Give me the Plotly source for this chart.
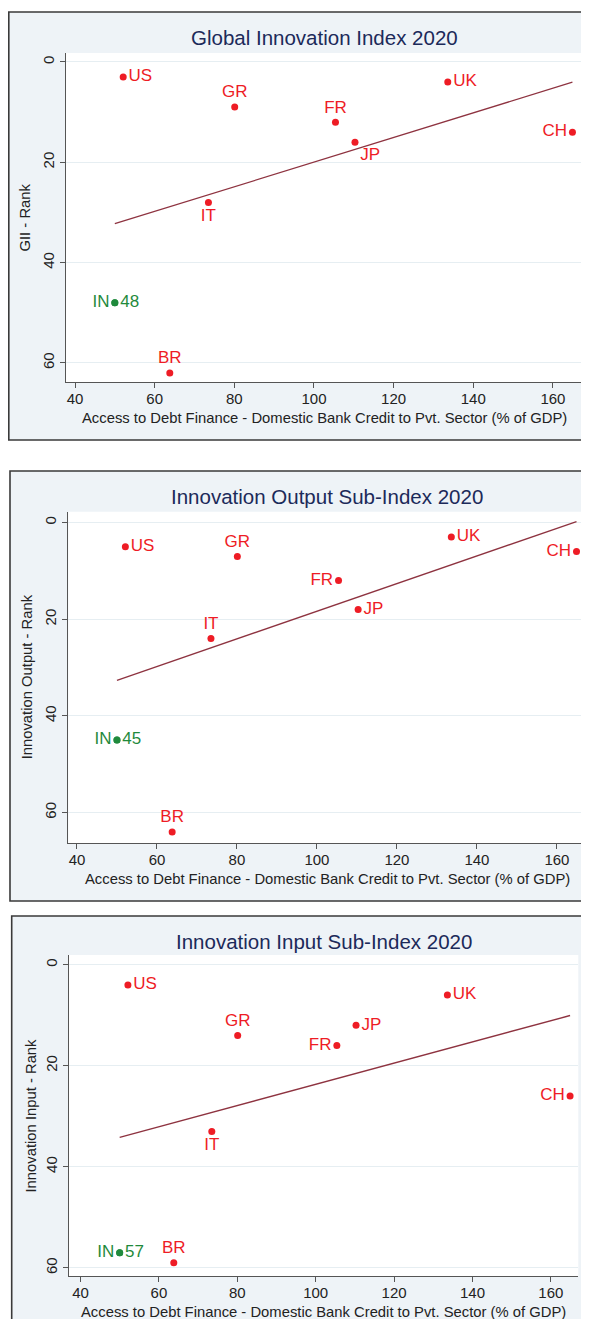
import numpy as np
import plotly.graph_objects as go

# target page size; the page body has an 8px margin, so the figure is offset by it
W, H = 589, 1327
OX, OY = 8, 8
FW, FH = W - OX, H - 2 * OY

countries = ["US", "GR", "FR", "JP", "UK", "CH", "IT", "IN", "BR"]
credit = [52.1, 80.1, 105.4, 110.3, 133.6, 164.9, 73.5, 50.0, 63.8]
gii_rank = [3, 9, 12, 16, 4, 14, 28, 48, 62]
output_rank = [5, 7, 12, 18, 3, 6, 24, 45, 64]
input_rank = [4, 14, 16, 12, 6, 26, 33, 57, 59]

x_ticks = [40, 60, 80, 100, 120, 140, 160]
y_ticks = [0, 20, 40, 60]
x_title = "Access to Debt Finance - Domestic Bank Credit to Pvt. Sector (% of GDP)"

FONT = "Liberation Sans, Arial, sans-serif"
RED = "#ee1c25"
GREEN = "#1f8a3c"
FIT = "#8e3340"
TITLE_C = "#1c2a5a"
TXT = "#222222"
AXIS_C = "#555555"
GRID = "#e6eef2"
PANEL_BG = "#eef3f7"
BORDER = "#3a3a3a"

# panel layout in page pixels: graph box (left, top, bottom), plot area (l, t, r, b), axis ranges
PANELS = [
    dict(title="Global Innovation Index 2020", ytitle="GII - Rank", ranks=gii_rank,
         pos=["middle right", "top center", "top center", "bottom right", "middle right",
              "middle left", "bottom center", "middle left", "top center"],
         box=(7, 12, 440), plot=(66, 53, 582, 382),
         xr=[37.74, 167.3], yr=[63.8, -1.79], ytx=25),
    dict(title="Innovation Output Sub-Index 2020", ytitle="Innovation Output - Rank", ranks=output_rank,
         pos=["middle right", "top center", "middle left", "middle right", "middle right",
              "middle left", "top center", "middle left", "top center"],
         box=(10, 471, 901), plot=(68.3, 511.7, 585.7, 843),
         xr=[37.83, 167.2], yr=[66.3, -2.26], ytx=27),
    dict(title="Innovation Input Sub-Index 2020", ytitle="Innovation Input - Rank", ranks=input_rank,
         pos=["middle right", "top center", "middle left", "middle right", "middle right",
              "middle left", "bottom center", "middle left", "top center"],
         box=(11.7, 916, 1340), plot=(69, 955, 578.3, 1276),
         xr=[37.07, 167.0], yr=[61.6, -1.92], ytx=30),
]


def fx(v):
    return (v - OX) / FW


def fy(v):
    return 1 - (v - OY) / FH


fig = go.Figure()
layout = {}

for i, p in enumerate(PANELS, start=1):
    s = "" if i == 1 else str(i)
    xa, ya = "x" + s, "y" + s
    l, t, r, b = p["plot"]

    # graph region background + border, then white plot region
    fig.add_shape(type="rect", xref="paper", yref="paper",
                  x0=fx(max(p["box"][0], OX + 0.8)), x1=fx(W + 10),
                  y0=fy(p["box"][2]), y1=fy(p["box"][1]),
                  fillcolor=PANEL_BG, line=dict(color=BORDER, width=1.6), layer="below")
    fig.add_shape(type="rect", xref=xa + " domain", yref=ya + " domain",
                  x0=0, x1=1, y0=0, y1=1, fillcolor="white", line_width=0, layer="below")

    ranks = p["ranks"]
    red_idx = [k for k, c in enumerate(countries) if c != "IN"]
    in_idx = countries.index("IN")

    # fitted line
    slope, icpt = np.polyfit(credit, ranks, 1)
    xs = np.array([min(credit), max(credit)])
    fig.add_trace(go.Scatter(x=xs, y=slope * xs + icpt, mode="lines", xaxis=xa, yaxis=ya,
                             line=dict(color=FIT, width=1.3), hoverinfo="skip"))

    fig.add_trace(go.Scatter(
        x=[credit[k] for k in red_idx], y=[ranks[k] for k in red_idx],
        text=[countries[k] for k in red_idx], textposition=[p["pos"][k] for k in red_idx],
        mode="markers+text", xaxis=xa, yaxis=ya, cliponaxis=False,
        marker=dict(color=RED, size=7), textfont=dict(color=RED, size=17, family=FONT)))

    fig.add_trace(go.Scatter(
        x=[credit[in_idx]], y=[ranks[in_idx]], text=["IN"], textposition="middle left",
        mode="markers+text", xaxis=xa, yaxis=ya, cliponaxis=False,
        marker=dict(color=GREEN, size=7), textfont=dict(color=GREEN, size=17, family=FONT)))
    fig.add_trace(go.Scatter(
        x=[credit[in_idx]], y=[ranks[in_idx]], text=[str(ranks[in_idx])], textposition="middle right",
        mode="markers+text", xaxis=xa, yaxis=ya, cliponaxis=False,
        marker=dict(color=GREEN, size=7), textfont=dict(color=GREEN, size=17, family=FONT)))

    layout["xaxis" + s] = dict(
        domain=[fx(l), fx(r)], range=p["xr"], anchor=ya, tickvals=x_ticks,
        showgrid=False, zeroline=False, showline=True, linecolor=AXIS_C, linewidth=1.2,
        ticks="outside", ticklen=5, tickcolor=AXIS_C, tickwidth=1.2, ticklabelstandoff=-2,
        tickfont=dict(size=15, color=TXT, family=FONT))
    layout["yaxis" + s] = dict(
        domain=[fy(b), fy(t)], range=p["yr"], anchor=xa, tickvals=y_ticks, tickangle=-90,
        showgrid=True, gridcolor=GRID, gridwidth=1, zeroline=False,
        showline=True, linecolor=AXIS_C, linewidth=1.2,
        ticks="outside", ticklen=5, tickcolor=AXIS_C, tickwidth=1.2,
        tickfont=dict(size=15, color=TXT, family=FONT))

    cx = (l + r) / 2
    fig.add_annotation(xref="paper", yref="paper", x=fx(cx), y=fy(p["box"][1] + 25),
                       text=p["title"], showarrow=False, xanchor="center", yanchor="middle",
                       font=dict(size=20.5, color=TITLE_C, family=FONT))
    fig.add_annotation(xref="paper", yref="paper", x=fx(cx), y=fy(b + 36),
                       text=x_title, showarrow=False, xanchor="center", yanchor="middle",
                       font=dict(size=14.8, color=TXT, family=FONT))
    fig.add_annotation(xref="paper", yref="paper", x=fx(p["ytx"]), y=fy((t + b) / 2),
                       text=p["ytitle"], showarrow=False, textangle=-90,
                       xanchor="center", yanchor="middle",
                       font=dict(size=14.8, color=TXT, family=FONT))

fig.update_layout(
    width=FW, height=FH, margin=dict(l=0, r=0, t=0, b=0),
    paper_bgcolor="white", plot_bgcolor="white", showlegend=False,
    font=dict(family=FONT, color=TXT),
    **layout,
)

fig.write_html("out.html")
